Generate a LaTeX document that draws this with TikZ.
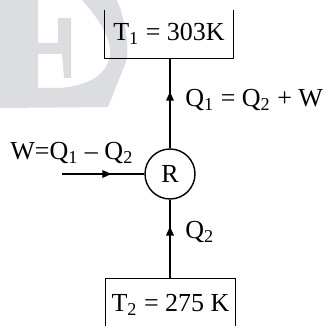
\documentclass[tikz,border=0pt]{standalone}
\usepackage{fontspec}
\setmainfont{Liberation Serif}
\usepackage{tikz}
\usetikzlibrary{arrows.meta,positioning,decorations.markings}
\definecolor{hpwater}{HTML}{DCDDE1}
\tikzset{
  hpres/.style={inner sep=0pt, font=\fontsize{13}{15}\selectfont},
  hpengine/.style={draw, circle, line width=0.7pt, minimum size=25pt,
    inner sep=0pt, font=\fontsize{13}{15}\selectfont},
  hpline/.style={line width=0.7pt, draw=black},
  hpflow/.style={hpline, postaction={decorate}, decoration={markings,
    mark=at position #1 with {\arrow{Triangle[length=4.5pt,width=3.8pt]}}}},
  hplabel/.style={inner sep=0pt, font=\fontsize{13}{15}\selectfont}
}
\begin{document}
\begin{tikzpicture}[x=0.5pt, y=-0.5pt]
  \useasboundingbox (0,0) rectangle (326,326);
  \clip (0,0) rectangle (326,326);
  % watermark
  \fill[hpwater] (0,0) -- (38,0) -- (38,43) -- (58,43) -- (58,18) -- (71,18)
    -- (71,78) -- (64,78) -- (62,54) -- (38,54) -- (38,88) -- (60,88)
    .. controls (90,85) and (106,75) .. (110,56)
    .. controls (112,40) and (100,20) .. (82,0) -- (117,0)
    .. controls (125,20) and (130,45) .. (126,62) -- (108,107) -- (0,108) -- cycle;
  % reservoirs
  \node[hpres, minimum width=64pt, minimum height=24pt] (hot) at (169,34)
    {T\textsubscript{1} = 303K};
  \node[hpres, minimum width=64.5pt, minimum height=26pt] (cold) at (170.5,305)
    {T\textsubscript{2} = 275 K};
  \draw[hpline] (hot.north west) -- (hot.south west) -- (hot.south east) -- (hot.north east);
  \draw[hpline] (cold.south west) -- (cold.north west) -- (cold.north east) -- (cold.south east);
  % refrigerator
  \node[hpengine] (eng) at (170,174) {R};
  \coordinate (win) at (62,174);
  \draw[hpflow=0.63] (eng.north) -- (hot.south -| eng.north);
  \draw[hpflow=0.66] (cold.north -| eng.south) -- (eng.south);
  \draw[hpflow=0.6] (win) -- (eng.west);
  % labels
  \node[hplabel, anchor=west] (qhot) at (185,100) {Q\textsubscript{1} = Q\textsubscript{2} + W};
  \node[hplabel, anchor=west] (qcold) at (185,232) {Q\textsubscript{2}};
  \node[hplabel, anchor=west] (work) at (10,153) {W=Q\textsubscript{1} – Q\textsubscript{2}};
\end{tikzpicture}
\end{document}
